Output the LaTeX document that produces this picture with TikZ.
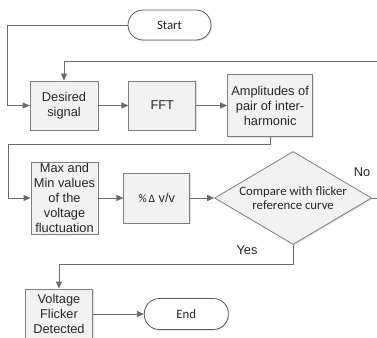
\documentclass[tikz,border=0pt]{standalone}
\usepackage{fontspec}
\setmainfont{Liberation Sans}
\newfontfamily\calib{Carlito}
\usetikzlibrary{shapes.geometric,arrows.meta,positioning,shadows}
\definecolor{boxfill}{HTML}{F2F2F2}
\definecolor{boxline}{HTML}{7F7F7F}
\definecolor{flowline}{HTML}{6A6A6A}
\tikzset{procbox/.style={rectangle,draw=boxline,fill=boxfill,thick,align=center,inner sep=1pt,text=black!85,
  font=\fontsize{12.8}{15}\selectfont,drop shadow={shadow xshift=1pt,shadow yshift=-1pt,opacity=.25}}}
\tikzset{termbox/.style={rectangle,rounded corners=15pt,draw=black!65,fill=white,thick,minimum height=30pt,
  text=black!85,font=\calib\fontsize{12.8}{15}\selectfont,drop shadow={shadow xshift=1pt,shadow yshift=-1pt,opacity=.25}}}
\tikzset{decide/.style={diamond,draw=boxline,fill=boxfill,thick,align=center,inner sep=0pt,aspect=1.69,text=black!85,
  font=\calib\fontsize{12.8}{14.5}\selectfont,drop shadow={shadow xshift=1pt,shadow yshift=-1pt,opacity=.25}}}
\tikzset{flow/.style={draw=flowline,thick,-{Triangle[length=7pt,width=6pt]}}}
\tikzset{plain/.style={draw=flowline,thick}}

\begin{document}
\begin{tikzpicture}[x=1pt,y=-1pt]
\useasboundingbox (0,0) rectangle (377,337);
\clip (0,0) rectangle (377,337);
\begin{scope}[node distance=30pt]
	\node (start) [termbox, minimum width=83pt] at (169.5,25) {Start} ;
	\node (desired) [procbox, minimum width=68pt, minimum height=49pt] at (64,105.5) {Desired\\signal} ;
	\node (fft) [procbox, minimum width=67pt, minimum height=49pt, right =of desired] {FFT} ;
	\node (amps) [procbox, minimum width=85pt, minimum height=62pt, right =31pt of fft] {Amplitudes of\\pair of inter-\\harmonic} ;
	\node (maxmin) [procbox, minimum width=67pt, minimum height=72pt, inner sep=0pt] at (64.5,198) {Max and\\Min values\\of the\\voltage\\fluctuation} ;
	\node (dv) [procbox, minimum width=66pt, minimum height=50pt, right =25pt of maxmin] {{\calib\fontsize{11.5}{14}\selectfont\%\,Δ} v/v} ;
	\node (cmp) [decide, minimum width=157pt, minimum height=93pt, right =24pt of dv] {Compare with flicker\\reference curve} ;
	\node (volt) [procbox, minimum width=67pt, minimum height=50pt] at (59,314) {Voltage\\Flicker\\Detected} ;
	\node (end) [termbox, minimum width=84pt, minimum height=31pt, right =51pt of volt] {End} ;
\end{scope}
% connectors
\coordinate (loopin) at (380,61);
\draw [flow] (start.west) -| ([xshift=-22pt]desired.west) -- (desired.west);
\draw [flow] (loopin) -| (desired.north);
\draw [flow] (desired) -- (fft);
\draw [flow] (fft) -- (amps);
\draw [flow] (amps.south) -- ++(0,7) -| ([xshift=-22pt]maxmin.west) -- (maxmin.west);
\draw [flow] (maxmin) -- (dv);
\draw [flow] (dv) -- (cmp);
\draw [plain] (cmp.east) -- ++(12,0);
\draw [flow] (cmp.south) -- ++(0,19) -| (volt.north);
\draw [flow] (volt) -- (end);
\node (yes) [font=\fontsize{12.8}{15}\selectfont, text=black!85] at (247,250) {Yes};
\node (no) [font=\fontsize{12.8}{15}\selectfont, text=black!85] at (362,172) {No};
\end{tikzpicture}
\end{document}
